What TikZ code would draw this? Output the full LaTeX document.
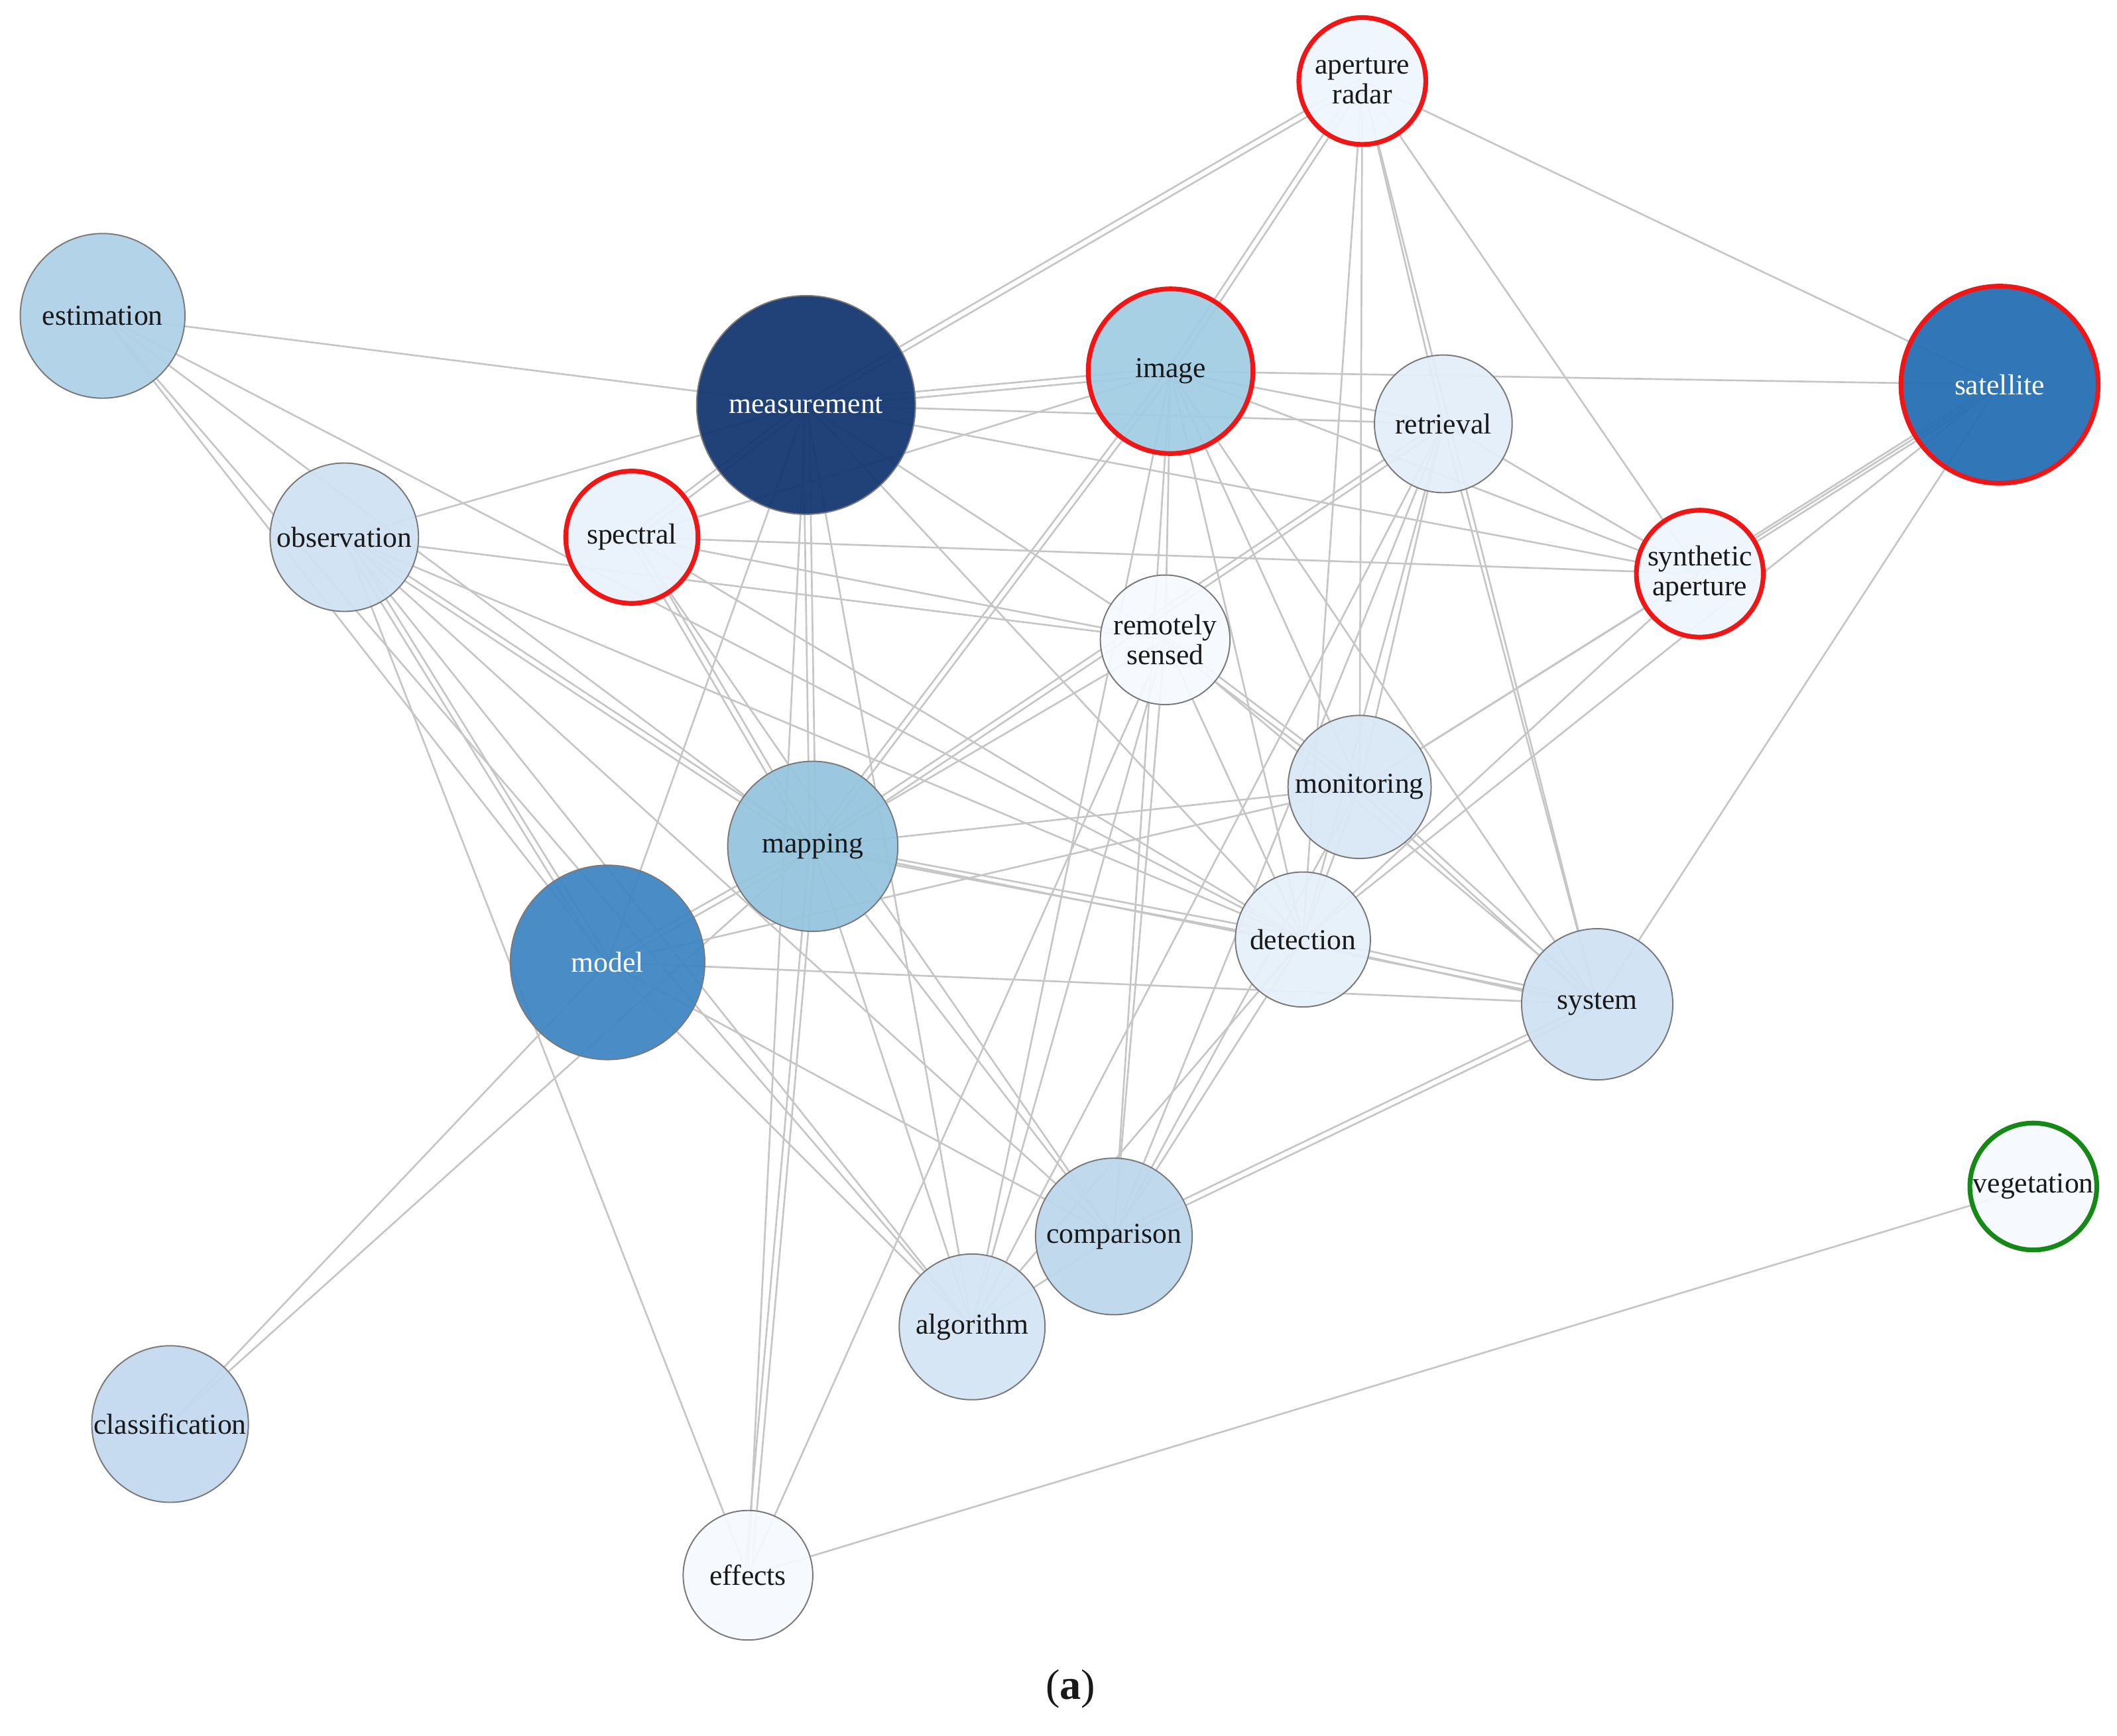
\documentclass[tikz,border=0pt]{standalone}
\usepackage{fontspec}
\setmainfont{Liberation Serif}
\usepackage{xcolor}
\usetikzlibrary{calc}
\usetikzlibrary{backgrounds}

\definecolor{navy}{RGB}{20,56,113}
\definecolor{satblue}{RGB}{38,112,180}
\definecolor{modblue}{RGB}{64,135,195}
\definecolor{mapblue}{RGB}{150,197,222}
\definecolor{imgblue}{RGB}{162,205,228}
\definecolor{estblue}{RGB}{175,209,231}
\definecolor{cmpblue}{RGB}{190,215,236}
\definecolor{clsblue}{RGB}{195,217,239}
\definecolor{obsblue}{RGB}{208,226,243}
\definecolor{algblue}{RGB}{213,229,244}
\definecolor{monblue}{RGB}{217,232,246}
\definecolor{retblue}{RGB}{227,238,249}
\definecolor{detblue}{RGB}{230,240,250}
\definecolor{spcblue}{RGB}{233,242,251}
\definecolor{palest}{RGB}{239,246,253}
\definecolor{ghost}{RGB}{245,249,254}
\definecolor{rimgray}{RGB}{122,122,122}
\definecolor{flagred}{RGB}{240,22,22}
\definecolor{flaggreen}{RGB}{22,136,22}
\definecolor{linkgray}{RGB}{198,198,198}
\definecolor{inkdark}{RGB}{25,25,25}

\begin{document}
\begin{tikzpicture}[x=0.02cm, y=-0.02cm,
    term/.style={circle, draw=rimgray, line width=0.55pt, inner sep=0pt,
      minimum size=2*#1*0.02cm, fill opacity=0.95, text opacity=1,
      align=center, text=inkdark, font=\fontsize{12.2}{12.6}\selectfont},
    flagged/.style={draw=flagred, line width=2pt},
    sparse/.style={draw=flaggreen, line width=2pt},
    lighttext/.style={text=white},
    link/.style={draw=linkgray, line width=0.75pt,
      to path={(\tikztostart.center) -- (\tikztotarget.center)}},
    twin/.style={draw=linkgray, line width=0.75pt,
      to path={($(\tikztostart.center)!1.3pt!90:(\tikztotarget.center)$)
        -- ($(\tikztotarget.center)!1.3pt!-90:(\tikztostart.center)$)
        ($(\tikztostart.center)!1.3pt!-90:(\tikztotarget.center)$)
        -- ($(\tikztotarget.center)!1.3pt!90:(\tikztostart.center)$)}}]
  \useasboundingbox (0,0) rectangle (1568,1286);

  \node[term=47, flagged, fill=palest] (ar) at (1009,60) {aperture\\radar};
  \node[term=61, fill=estblue] (est) at (76,234) {estimation};
  \node[term=81, fill=navy, lighttext] (meas) at (597,300) {measurement};
  \node[term=61, flagged, fill=imgblue] (img) at (867,275) {image};
  \node[term=51, fill=retblue] (ret) at (1069,314) {retrieval};
  \node[term=73, flagged, fill=satblue, lighttext] (sat) at (1481,285) {satellite};
  \node[term=55, fill=obsblue] (obs) at (255,398) {observation};
  \node[term=49, flagged, fill=spcblue] (spec) at (468,398) {spectral};
  \node[term=47, flagged, fill=palest] (syn) at (1259,425) {synthetic\\aperture};
  \node[term=48, fill=ghost] (rem) at (863,474) {remotely\\sensed};
  \node[term=53, fill=monblue] (mon) at (1007,583) {monitoring};
  \node[term=63, fill=mapblue] (map) at (602,627) {mapping};
  \node[term=72, fill=modblue, lighttext] (mod) at (450,713) {model};
  \node[term=50, fill=detblue] (det) at (965,696) {detection};
  \node[term=56, fill=obsblue] (sys) at (1183,744) {system};
  \node[term=47, sparse, fill=ghost] (veg) at (1506,879) {vegetation};
  \node[term=58, fill=cmpblue] (comp) at (825,916) {comparison};
  \node[term=54, fill=algblue] (alg) at (720,983) {algorithm};
  \node[term=58, fill=clsblue] (cls) at (126,1055) {classification};
  \node[term=48, fill=ghost] (eff) at (554,1167) {effects};

  \node[font=\fontsize{18}{20}\selectfont, text=inkdark] (tag) at (793,1251) {(\textbf{a})};

  \begin{scope}[on background layer]
    \path[link] (ar) edge (ret) edge (sys) edge (mon) edge (det) edge (syn) edge (sat);
    \path[twin] (ar) edge (meas) edge (img);
    \path[link] (est) edge (meas) edge (det) edge (map) edge (mod) edge (alg);
    \path[link] (obs) edge (meas) edge (rem) edge (alg) edge (comp) edge (det) edge (eff);
    \path[twin] (obs) edge (mod) edge (map);
    \path[link] (spec) edge (img) edge (syn) edge (rem) edge (det) edge (comp);
    \path[twin] (spec) edge (meas) edge (map);
    \path[link] (meas) edge (ret) edge (syn) edge (rem) edge (det) edge (mod) edge (alg) edge (eff);
    \path[twin] (meas) edge (img) edge (map);
    \path[link] (img) edge (sat) edge (ret) edge (syn) edge (rem) edge (det) edge (mon)
      edge (sys) edge (comp) edge (alg);
    \path[twin] (img) edge (map);
    \path[link] (ret) edge (syn) edge (det) edge (sys) edge (alg) edge (mon) edge (comp);
    \path[twin] (ret) edge (map);
    \path[link] (sat) edge (mon) edge (det) edge (sys);
    \path[twin] (sat) edge (syn);
    \path[link] (syn) edge (mon) edge (det);
    \path[link] (rem) edge (map) edge (det) edge (comp) edge (alg) edge (sys) edge (eff);
    \path[twin] (rem) edge (mon);
    \path[link] (mon) edge (det) edge (map) edge (mod) edge (comp);
    \path[twin] (mon) edge (sys);
    \path[link] (map) edge (sys) edge (comp) edge (alg) edge (cls);
    \path[twin] (map) edge (mod) edge (det) edge (eff);
    \path[link] (mod) edge (sys) edge (comp) edge (alg) edge (cls);
    \path[twin] (det) edge (sys);
    \path[link] (det) edge (comp) edge (alg);
    \path[twin] (sys) edge (comp);
    \path[link] (comp) edge (alg);
    \path[link] (eff) edge (veg);
  \end{scope}
\end{tikzpicture}
\end{document}
